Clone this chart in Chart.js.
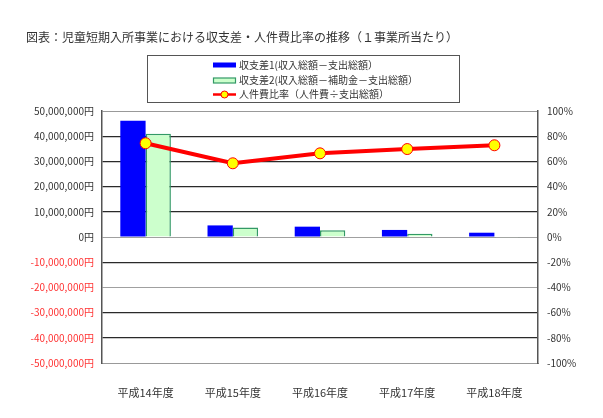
<!DOCTYPE html>
<html>
<head>
<meta charset="utf-8">
<script src="https://cdn.jsdelivr.net/npm/chart.js@4/dist/chart.umd.min.js"></script>
<style>
html,body{margin:0;padding:0;background:#fff;}
#wrap{width:603px;height:418px;position:relative;}
</style>
</head>
<body>
<div id="wrap"><canvas id="c" width="603" height="418"></canvas></div>
<script>
const chartTitle = "図表：児童短期入所事業における収支差・人件費比率の推移（１事業所当たり）";
const categories = ["平成14年度", "平成15年度", "平成16年度", "平成17年度", "平成18年度"];
const seriesNames = ["収支差1(収入総額－支出総額）", "収支差2(収入総額－補助金－支出総額）", "人件費比率（人件費÷支出総額）"];
const balance1 = [46100000, 4600000, 4100000, 2800000, 1700000];
const balance2 = [41000000, 3800000, 2700000, 1300000, -300000];
const personnelRatio = [74.4, 58.5, 66.4, 69.8, 72.8];
const leftTicks = [-50000000, -40000000, -30000000, -20000000, -10000000, 0, 10000000, 20000000, 30000000, 40000000, 50000000];
const rightTicks = [-100, -80, -60, -40, -20, 0, 20, 40, 60, 80, 100];

const FONT = '"Noto Sans CJK JP", "Noto Sans", sans-serif';

const decor = {
  id: 'decor',
  afterDraw(chart) {
    const ctx = chart.ctx;
    ctx.save();
    // title
    ctx.fillStyle = '#333';
    ctx.font = '12px ' + FONT;
    ctx.textBaseline = 'middle';
    ctx.textAlign = 'left';
    ctx.fillText(chartTitle, 26, 37);
    // legend box
    ctx.strokeStyle = '#555';
    ctx.lineWidth = 1;
    ctx.strokeRect(147.5, 55.5, 312, 47);
    const sx = 213, sw = 23;
    const rows = [65, 80.5, 94.5];
    // item 1
    ctx.fillStyle = '#0000ff';
    ctx.fillRect(sx, rows[0] - 2.5, sw, 5);
    // item 2
    ctx.fillStyle = '#ccffcc';
    ctx.fillRect(sx, rows[1] - 2.5, sw, 5);
    ctx.strokeStyle = '#339966';
    ctx.lineWidth = 1.2;
    ctx.strokeRect(sx + 0.5, rows[1] - 2.5, sw - 1, 5);
    // item 3
    ctx.strokeStyle = '#ff0000';
    ctx.lineWidth = 2.5;
    ctx.beginPath();
    ctx.moveTo(sx, rows[2]);
    ctx.lineTo(sx + sw, rows[2]);
    ctx.stroke();
    ctx.beginPath();
    ctx.arc(sx + sw / 2, rows[2], 3.5, 0, Math.PI * 2);
    ctx.fillStyle = '#ffff00';
    ctx.fill();
    ctx.lineWidth = 1;
    ctx.stroke();
    ctx.fillStyle = '#333';
    ctx.font = '10px ' + FONT;
    ctx.textBaseline = 'middle';
    for (let i = 0; i < 3; i++) {
      ctx.fillText(chart.data.datasets[i].label, 239, rows[i]);
    }
    ctx.restore();
  }
};

function yen(v) {
  return v.toLocaleString('en-US') + '円';
}

new Chart(document.getElementById('c'), {
  data: {
    labels: categories,
    datasets: [
      {
        type: 'bar', label: seriesNames[0], data: balance1, yAxisID: 'y',
        backgroundColor: '#0000ff', borderColor: '#3333ff', borderWidth: 0,
        categoryPercentage: 0.58, barPercentage: 1.0, order: 2
      },
      {
        type: 'bar', label: seriesNames[1], data: balance2, yAxisID: 'y',
        backgroundColor: '#ccffcc', borderColor: '#339966', borderWidth: 1.5,
        categoryPercentage: 0.58, barPercentage: 1.0, order: 2
      },
      {
        type: 'line', label: seriesNames[2], data: personnelRatio, yAxisID: 'y1',
        borderColor: '#ff0000', borderWidth: 4, tension: 0,
        pointRadius: 5.5, pointBackgroundColor: '#ffff00', pointBorderColor: '#ff0000',
        pointBorderWidth: 1, fill: false, order: 0
      }
    ]
  },
  options: {
    responsive: false,
    animation: false,
    devicePixelRatio: 1,
    layout: { padding: { top: 111, left: 0, right: 0, bottom: 0 } },
    plugins: { legend: { display: false }, title: { display: false }, tooltip: { enabled: false } },
    scales: {
      x: {
        offset: true,
        grid: { display: false, drawTicks: false },
        border: { color: '#999', width: 1 },
        ticks: { color: '#333', font: { family: FONT, size: 11 }, padding: 23 },
        afterFit(s) { s.height = 55; }
      },
      y: {
        position: 'left',
        min: -50000000, max: 50000000,
        afterBuildTicks(s) { s.ticks = leftTicks.map(v => ({ value: v })); },
        grid: {
          drawTicks: false,
          lineWidth(c) {
            const v = c.tick && c.tick.value;
            if (v === 0 || v === -20000000 || v === 50000000 || v === -50000000) return 1;
            return 1.3;
          },
          color(c) {
            const v = c.tick && c.tick.value;
            if (v === 0 || v === -20000000) return '#a0a0a0';
            if (v === 50000000 || v === -50000000) return '#999';
            return '#2a2a2a';
          }
        },
        border: { color: '#555', width: 1.5 },
        ticks: {
          padding: 8,
          font: { family: FONT, size: 10 },
          color(c) { return c.tick.value < 0 ? '#ff3333' : '#333'; },
          callback(v) { return yen(v); }
        },
        afterFit(s) { s.width = 102; }
      },
      y1: {
        position: 'right',
        min: -100, max: 100,
        afterBuildTicks(s) { s.ticks = rightTicks.map(v => ({ value: v })); },
        grid: { display: false, drawTicks: false },
        border: { color: '#555', width: 1.5 },
        ticks: {
          padding: 9,
          font: { family: FONT, size: 10 },
          color: '#333',
          callback(v) { return v + '%'; }
        },
        afterFit(s) { s.width = 65; }
      }
    }
  },
  plugins: [decor]
});
</script>
</body>
</html>
